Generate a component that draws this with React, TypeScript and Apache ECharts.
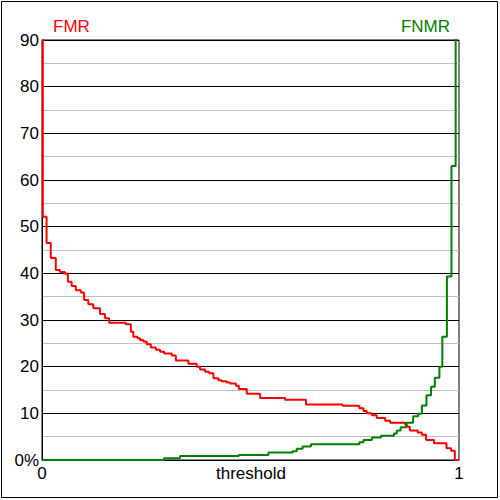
import React, { useEffect, useRef } from "react";
import * as echarts from "echarts";

const fmrThreshold = [0, 0.002, 0.011, 0.021, 0.033, 0.043, 0.055, 0.062, 0.071, 0.081, 0.093, 0.101, 0.111, 0.123, 0.139, 0.151, 0.161, 0.201, 0.213, 0.219, 0.229, 0.235, 0.243, 0.251, 0.261, 0.273, 0.283, 0.293, 0.311, 0.321, 0.351, 0.371, 0.379, 0.391, 0.401, 0.411, 0.423, 0.431, 0.443, 0.451, 0.465, 0.472, 0.491, 0.523, 0.583, 0.633, 0.721, 0.761, 0.771, 0.779, 0.791, 0.803, 0.823, 0.835, 0.871, 0.875, 0.882, 0.901, 0.911, 0.921, 0.94, 0.97, 0.981, 0.99, 1];
const fmrValues = [100, 52.1, 46.5, 43.3, 40.7, 40.3, 39.9, 38.2, 37.3, 36.4, 35.9, 34.3, 33.4, 32.5, 31.3, 30.4, 29.4, 29.1, 27.5, 26.4, 26.1, 25.7, 25.4, 24.8, 24.1, 23.6, 23.2, 22.8, 22.4, 21.3, 20.6, 20.0, 19.4, 18.9, 18.6, 17.5, 17.1, 16.9, 16.6, 16.4, 15.9, 15.2, 14.2, 13.3, 12.9, 11.9, 11.6, 11.1, 10.5, 10.0, 9.6, 9.0, 8.4, 8.0, 7.6, 7.1, 6.3, 5.9, 5.4, 4.3, 3.6, 2.5, 2.0, 0, 0];

const fnmrThreshold = [0, 0.293, 0.331, 0.472, 0.543, 0.601, 0.611, 0.625, 0.645, 0.761, 0.771, 0.791, 0.813, 0.844, 0.851, 0.86, 0.873, 0.89, 0.902, 0.911, 0.922, 0.933, 0.942, 0.953, 0.96, 0.971, 0.982, 0.992, 1];
const fnmrValues = [0, 0.36, 0.86, 1.07, 1.6, 1.9, 2.4, 2.9, 3.4, 3.8, 4.3, 4.8, 5.2, 5.7, 6.3, 7.0, 8.0, 9.4, 9.9, 11.7, 13.9, 15.7, 17.6, 20, 26.4, 39.3, 63, 100, 100];

const yMin = 0;
const yMax = 90;
const yStep = 10;
const xTickLabels = ["0", "1"];
const xAxisTitle = "threshold";

const FONT = "Liberation Sans, Arial, sans-serif";

export default function App() {
  const ref = useRef<HTMLDivElement>(null);
  useEffect(() => {
    if (!ref.current) return;
    const chart = echarts.init(ref.current, null, { renderer: "svg" });
    const fmr = fmrThreshold.map((t, i) => [t, fmrValues[i]]);
    const fnmr = fnmrThreshold.map((t, i) => [t, fnmrValues[i]]);
    chart.setOption({
      animation: false,
      backgroundColor: "#fff",
      textStyle: { fontFamily: FONT },
      grid: {
        left: 42,
        right: 41,
        top: 40,
        bottom: 40,
        containLabel: false,
        outerBoundsMode: "none",
        show: true,
        borderColor: "#000",
        borderWidth: 1,
        backgroundColor: "transparent",
      },
      xAxis: {
        type: "value",
        min: 0,
        max: 1,
        interval: 1,
        axisLine: { show: true, lineStyle: { color: "#000", width: 1 } },
        axisTick: { show: false },
        splitLine: { show: false },
        axisLabel: {
          color: "#000",
          fontSize: 17,
          fontFamily: FONT,
          margin: 5,
          formatter: (v: number) => (v === 0 ? xTickLabels[0] : v === 1 ? xTickLabels[1] : ""),
        },
      },
      yAxis: {
        type: "value",
        min: yMin,
        max: yMax,
        interval: yStep,
        axisLine: { show: true, lineStyle: { color: "#000", width: 1 } },
        axisTick: { show: false },
        axisLabel: {
          color: "#000",
          fontSize: 17,
          fontFamily: FONT,
          margin: 3,
          formatter: (v: number) => (v === 0 ? "0%" : String(v)),
        },
        splitLine: { show: true, lineStyle: { color: "#000", width: 1 } },
        minorTick: { show: false, splitNumber: 2 },
        minorSplitLine: { show: true, lineStyle: { color: "#c0c0c0", width: 1 } },
      },
      graphic: [
        {
          type: "rect",
          shape: { x: 1.5, y: 1.5, width: 496, height: 496 },
          style: { fill: "none", stroke: "#000", lineWidth: 1 },
          z: 100,
        },
        {
          type: "text",
          left: 53,
          top: 18,
          style: { text: "FMR", fill: "#ff0000", fontSize: 17, fontFamily: FONT },
        },
        {
          type: "text",
          right: 50,
          top: 18,
          style: { text: "FNMR", fill: "#008000", fontSize: 17, fontFamily: FONT },
        },
        {
          type: "text",
          x: 251,
          y: 465,
          style: {
            text: xAxisTitle,
            fill: "#000",
            fontSize: 17,
            fontFamily: FONT,
            align: "center",
            verticalAlign: "top",
          },
        },
      ],
      series: [
        {
          name: "FMR",
          type: "line",
          step: "end",
          data: fmr,
          showSymbol: false,
          clip: true,
          lineStyle: { color: "#ff0000", width: 2 },
          itemStyle: { color: "#ff0000" },
          z: 3,
        },
        {
          name: "FNMR",
          type: "line",
          step: "end",
          data: fnmr,
          showSymbol: false,
          clip: true,
          lineStyle: { color: "#008000", width: 2 },
          itemStyle: { color: "#008000" },
          z: 4,
        },
      ],
    });
    return () => chart.dispose();
  }, []);
  return (
    <div
      ref={ref}
      style={{ position: "fixed", left: 0, top: 0, width: 500, height: 500 }}
    />
  );
}
